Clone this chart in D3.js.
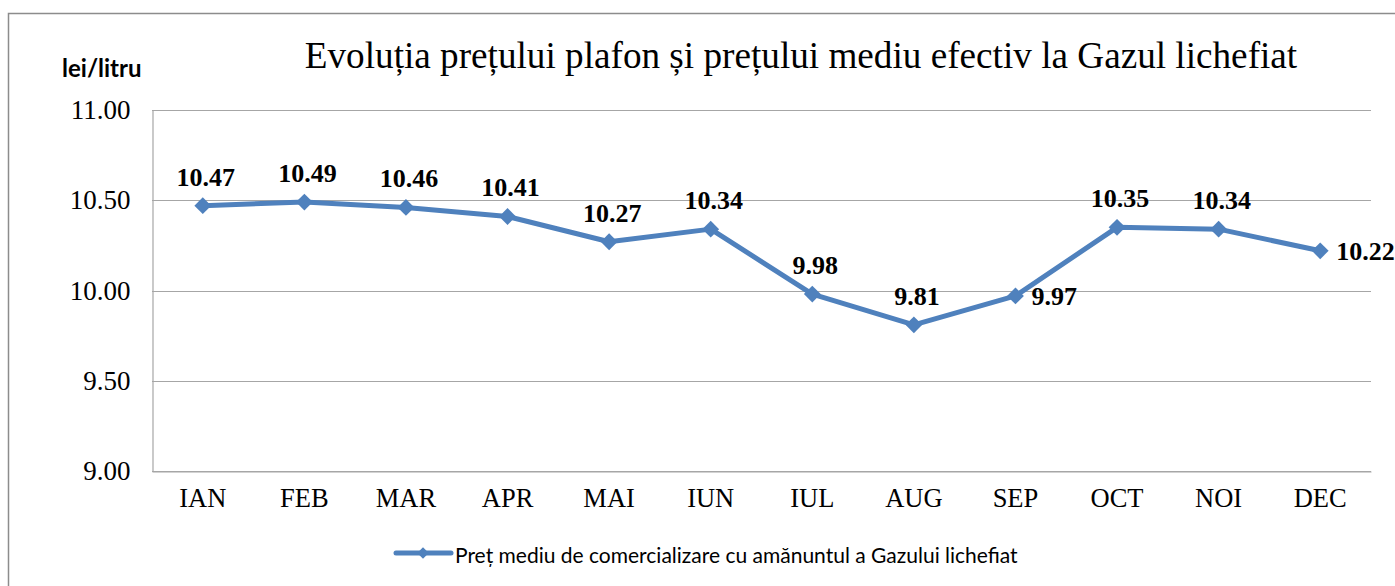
<!DOCTYPE html>
<html>
<head>
<meta charset="utf-8">
<script src="https://cdn.jsdelivr.net/npm/d3@7"></script>
<style>
  html, body { margin: 0; padding: 0; background: #fff; }
  svg { display: block; }
</style>
</head>
<body>
<svg id="chart" width="1395" height="586"></svg>
<script>
const months = ["IAN","FEB","MAR","APR","MAI","IUN","IUL","AUG","SEP","OCT","NOI","DEC"];
const values = [10.47,10.49,10.46,10.41,10.27,10.34,9.98,9.81,9.97,10.35,10.34,10.22];
const yTicks = [9.00, 9.50, 10.00, 10.50, 11.00];
const labelPlacement = ["above","above","above","above","above","above","above","above","right","above","above","right"];
const titleText = "Evoluția prețului plafon și prețului mediu efectiv la Gazul lichefiat";
const yUnit = "lei/litru";
const seriesName = "Preț mediu de comercializare cu amănuntul a Gazului lichefiat";

const svg = d3.select("#chart");
const W = 1395, H = 586;
const plot = { left: 152, right: 1371, top: 110, bottom: 471 };
const lineColor = "#4F81BD";
const serif = "'Liberation Serif', 'Times New Roman', serif";
const sans = "Lato, 'Noto Sans', sans-serif";

// outer frame
svg.append("rect")
  .attr("x", 8.5).attr("y", 13.5)
  .attr("width", W + 10).attr("height", H + 10)
  .attr("fill", "none").attr("stroke", "#8c8c8c").attr("stroke-width", 1.5);

const x = d3.scaleBand().domain(months).range([plot.left, plot.right]);
const y = d3.scaleLinear().domain([9, 11]).range([plot.bottom, plot.top]);

// gridlines
svg.append("g")
  .selectAll("line").data(yTicks).join("line")
  .attr("x1", plot.left).attr("x2", plot.right)
  .attr("y1", d => Math.round(y(d)) + 0.5).attr("y2", d => Math.round(y(d)) + 0.5)
  .attr("stroke", "#a6a6a6").attr("stroke-width", 1.2);

// y axis
const yAxis = svg.append("g")
  .attr("transform", `translate(${plot.left + 0.5},0)`)
  .call(d3.axisLeft(y).tickValues(yTicks).tickFormat(d3.format(".2f")).tickSize(0).tickPadding(22));
yAxis.select(".domain").attr("stroke", "#a6a6a6").attr("stroke-width", 1.2);
yAxis.selectAll("text").attr("font-family", serif).attr("font-size", 27).attr("fill", "#000");

// x axis
const xAxis = svg.append("g")
  .attr("transform", `translate(0,${Math.round(plot.bottom) + 0.5})`)
  .call(d3.axisBottom(x).tickSize(0).tickPadding(17));
xAxis.select(".domain").attr("stroke", "#a6a6a6").attr("stroke-width", 1.2);
xAxis.selectAll("text").attr("font-family", serif).attr("font-size", 26.5).attr("fill", "#000");

// line
const cx = d => x(d) + x.bandwidth() / 2;
const pts = months.map((m, i) => ({ m, v: values[i], p: labelPlacement[i] }));
svg.append("path")
  .datum(pts)
  .attr("d", d3.line().x(d => cx(d.m)).y(d => y(d.v)))
  .attr("fill", "none").attr("stroke", lineColor).attr("stroke-width", 5)
  .attr("stroke-linejoin", "round");

const diamond = d3.symbol().type(d3.symbolDiamond2).size(180);
svg.append("g").selectAll("path").data(pts).join("path")
  .attr("d", diamond)
  .attr("transform", d => `translate(${cx(d.m)},${y(d.v)})`)
  .attr("fill", lineColor);

// data labels
svg.append("g").selectAll("text").data(pts).join("text")
  .attr("x", d => d.p === "right" ? cx(d.m) + 16 : cx(d.m) + 3)
  .attr("y", d => d.p === "right" ? y(d.v) + 9 : y(d.v) - 20)
  .attr("text-anchor", d => d.p === "right" ? "start" : "middle")
  .attr("font-family", serif).attr("font-size", 26).attr("font-weight", "bold")
  .attr("fill", "#000")
  .text(d => d3.format(".2f")(d.v));

// title
svg.append("text")
  .attr("x", 801).attr("y", 68)
  .attr("text-anchor", "middle")
  .attr("font-family", serif).attr("font-size", 37.2)
  .attr("fill", "#000")
  .text(titleText);

// unit label
svg.append("text")
  .attr("x", 62).attr("y", 77)
  .attr("font-family", sans).attr("font-size", 24).attr("font-weight", "bold")
  .attr("fill", "#000")
  .text(yUnit);

// legend
const lg = svg.append("g").attr("transform", "translate(0,553)");
lg.append("line").attr("x1", 396).attr("x2", 451).attr("y1", 0).attr("y2", 0)
  .attr("stroke", lineColor).attr("stroke-width", 5).attr("stroke-linecap", "round");
lg.append("path").attr("d", d3.symbol().type(d3.symbolDiamond2).size(85))
  .attr("transform", "translate(423,0)").attr("fill", lineColor);
lg.append("text").attr("x", 455).attr("y", 10)
  .attr("font-family", sans).attr("font-size", 21)
  .attr("fill", "#000")
  .text(seriesName);
</script>
</body>
</html>
